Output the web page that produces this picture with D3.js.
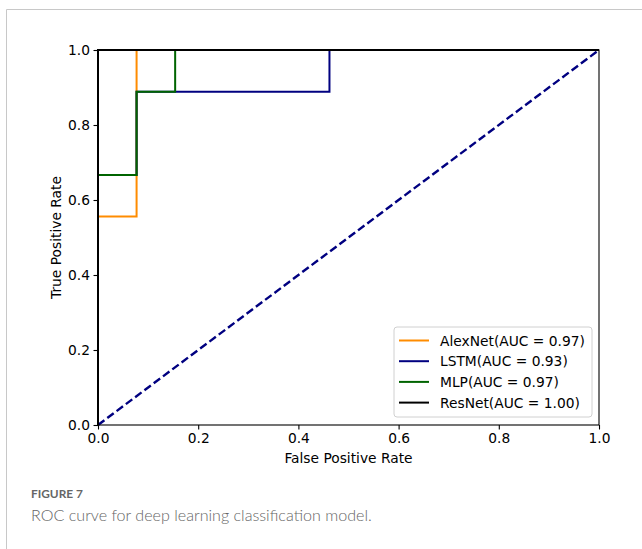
<!DOCTYPE html>
<html>
<head>
<meta charset="utf-8">
<title>ROC curve</title>
<script src="https://d3js.org/d3.v7.min.js"></script>
<style>
  body { margin: 0; background: #fff; }
  svg text { font-family: "DejaVu Sans", sans-serif; }
</style>
</head>
<body>
<div id="chart"></div>
<script>
// ROC points
var models = ["AlexNet", "LSTM", "MLP", "ResNet"];
var aucs = ["0.97", "0.93", "0.97", "1.00"];
var colors = ["#ff8c00", "#000080", "#006400", "#000000"];
var fprAlex = [0, 0, 0.077, 0.077, 1];
var tprAlex = [0, 0.556, 0.556, 1, 1];
var fprLstm = [0, 0, 0.077, 0.077, 0.462, 0.462, 1];
var tprLstm = [0, 0.667, 0.667, 0.889, 0.889, 1, 1];
var fprMlp = [0, 0, 0.077, 0.077, 0.154, 0.154, 1];
var tprMlp = [0, 0.667, 0.667, 0.889, 0.889, 1, 1];
var fprRes = [0, 0, 1];
var tprRes = [0, 1, 1];
var ticks = [0, 0.2, 0.4, 0.6, 0.8, 1.0];

var curves = [[fprAlex, tprAlex], [fprLstm, tprLstm], [fprMlp, tprMlp], [fprRes, tprRes]];

var W = 642, H = 549;
var pLeft = 98, pRight = 599, pTop = 50, pBottom = 425;
var fs = "13.8px";

var svg = d3.select("#chart").append("svg")
    .attr("width", W)
    .attr("height", H);

// page frame
svg.append("path")
    .attr("d", "M6.5," + H + " V9.5 H" + W)
    .attr("fill", "none")
    .attr("stroke", "#c8c8c8")
    .attr("stroke-width", 1);

var x = d3.scaleLinear().domain([0, 1]).range([pLeft, pRight]);
var y = d3.scaleLinear().domain([0, 1]).range([pBottom, pTop]);

var line = d3.line()
    .x(function(d) { return x(d[0]); })
    .y(function(d) { return y(d[1]); });

var plot = svg.append("g");

// chance diagonal
plot.append("path")
    .attr("d", line([[0, 0], [1, 1]]))
    .attr("fill", "none")
    .attr("stroke", "#000080")
    .attr("stroke-width", 2.4)
    .attr("stroke-dasharray", "8,3.6");

curves.forEach(function(c, i) {
  var pts = c[0].map(function(v, j) { return [v, c[1][j]]; });
  plot.append("path")
    .attr("d", line(pts))
    .attr("fill", "none")
    .attr("stroke", colors[i])
    .attr("stroke-width", 2)
    .attr("stroke-linejoin", "miter");
});

// spines
svg.append("rect")
    .attr("x", pLeft)
    .attr("y", pTop)
    .attr("width", pRight - pLeft)
    .attr("height", pBottom - pTop)
    .attr("fill", "none")
    .attr("stroke", "#000")
    .attr("stroke-width", 1.1);

var fmt = d3.format(".1f");

var xAxis = svg.append("g")
    .attr("transform", "translate(0," + pBottom + ")")
    .call(d3.axisBottom(x).tickValues(ticks).tickFormat(fmt).tickSize(4.5).tickPadding(3.5));
var yAxis = svg.append("g")
    .attr("transform", "translate(" + pLeft + ",0)")
    .call(d3.axisLeft(y).tickValues(ticks).tickFormat(fmt).tickSize(4.5).tickPadding(3.5));

[xAxis, yAxis].forEach(function(a) {
  a.select(".domain").remove();
  a.selectAll("text")
    .style("font-family", "DejaVu Sans, sans-serif")
    .style("font-size", fs)
    .attr("fill", "#000");
  a.selectAll("line").attr("stroke", "#000").attr("stroke-width", 1.1);
});

svg.append("text")
    .attr("x", (pLeft + pRight) / 2)
    .attr("y", 463)
    .attr("text-anchor", "middle")
    .style("font-size", fs)
    .text("False Positive Rate");

svg.append("text")
    .attr("transform", "translate(61," + ((pTop + pBottom) / 2) + ") rotate(-90)")
    .attr("text-anchor", "middle")
    .style("font-size", fs)
    .text("True Positive Rate");

// legend
var lg = svg.append("g").attr("transform", "translate(394,327)");
lg.append("rect")
    .attr("width", 198)
    .attr("height", 90)
    .attr("rx", 3)
    .attr("fill", "#fff")
    .attr("fill-opacity", 0.8)
    .attr("stroke", "#d0d0d0")
    .attr("stroke-width", 1);

models.forEach(function(m, i) {
  var ry = 13.5 + i * 20.7;
  lg.append("line")
    .attr("x1", 5).attr("x2", 35)
    .attr("y1", ry).attr("y2", ry)
    .attr("stroke", colors[i])
    .attr("stroke-width", 2);
  lg.append("text")
    .attr("x", 46)
    .attr("y", ry + 5)
    .style("font-size", fs)
    .text(m + "(AUC = " + aucs[i] + ")");
});

// caption, sized to the widths measured on the reference
function fitText(t, w) {
  var size = parseFloat(t.style("font-size"));
  var len = t.node().getComputedTextLength();
  t.style("font-size", (size * w / len) + "px");
}

var cap1 = svg.append("text")
    .attr("x", 31)
    .attr("y", 498)
    .style("font-family", "Lato, 'Open Sans', sans-serif")
    .style("font-size", "13px")
    .style("font-weight", 700)
    .attr("fill", "#666")
    .text("FIGURE 7");
fitText(cap1, 52);

var cap2 = svg.append("text")
    .attr("x", 31)
    .attr("y", 521)
    .style("font-family", "Lato, 'Open Sans', sans-serif")
    .style("font-size", "18px")
    .style("font-weight", 300)
    .attr("fill", "#666")
    .text("ROC curve for deep learning classification model.");
fitText(cap2, 341);
</script>
</body>
</html>
